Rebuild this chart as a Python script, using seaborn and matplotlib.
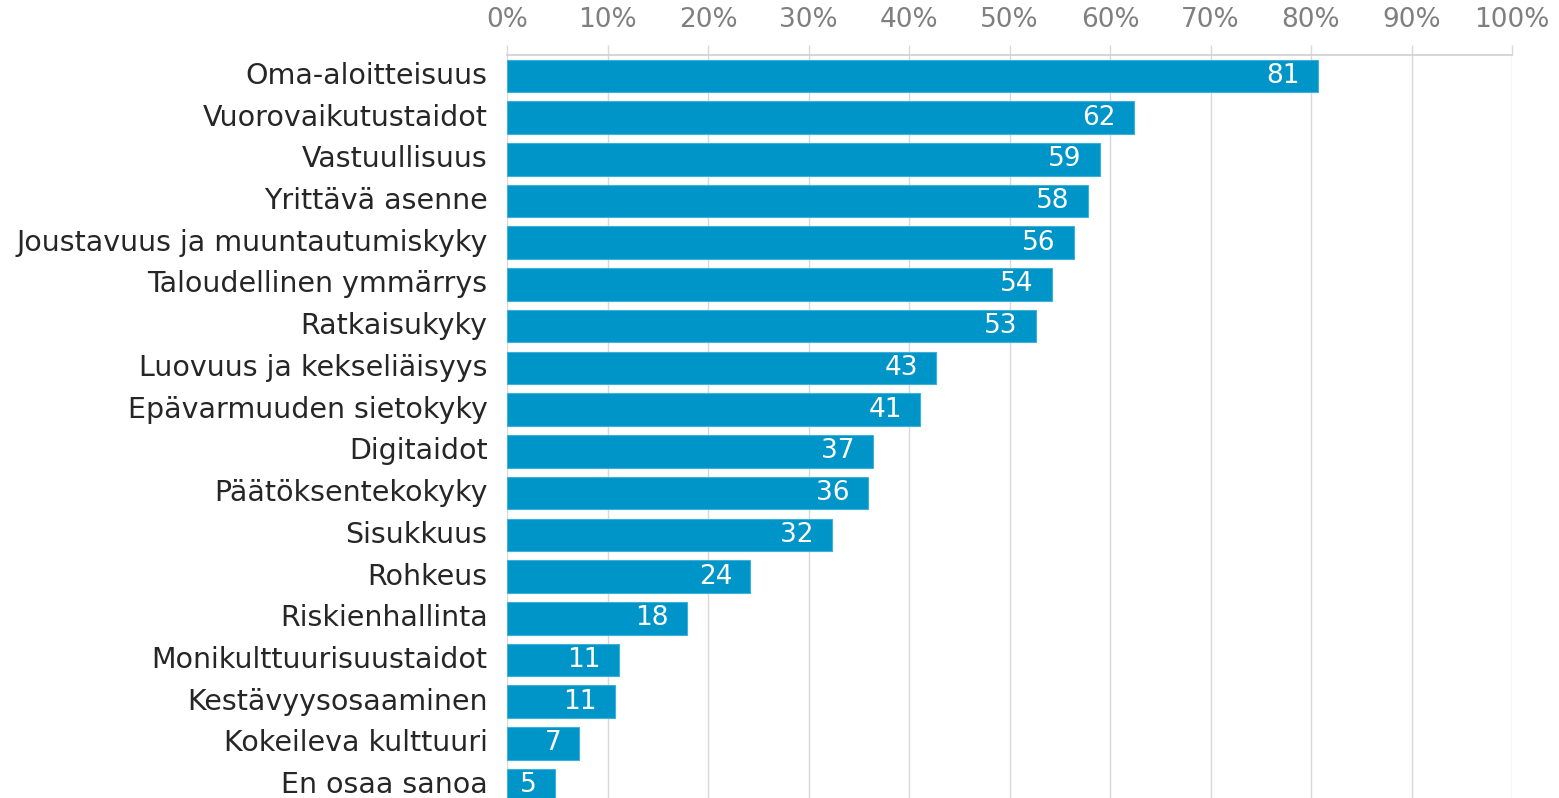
import matplotlib
matplotlib.use("Agg")
import matplotlib.pyplot as plt
import matplotlib.transforms as mtransforms
import seaborn as sns
import pandas as pd
from matplotlib.ticker import FuncFormatter

categories = [
    "Oma-aloitteisuus", "Vuorovaikutustaidot", "Vastuullisuus", "Yrittävä asenne",
    "Joustavuus ja muuntautumiskyky", "Taloudellinen ymmärrys", "Ratkaisukyky",
    "Luovuus ja kekseliäisyys", "Epävarmuuden sietokyky", "Digitaidot",
    "Päätöksentekokyky", "Sisukkuus", "Rohkeus", "Riskienhallinta",
    "Monikulttuurisuustaidot", "Kestävyysosaaminen", "Kokeileva kulttuuri",
    "En osaa sanoa",
]
values = [80.7, 62.4, 59.0, 57.8, 56.4, 54.2, 52.6, 42.7, 41.1, 36.4, 35.9, 32.3,
          24.2, 17.9, 11.1, 10.7, 7.2, 4.8]
labels = ["81", "62", "59", "58", "56", "54", "53", "43", "41", "37", "36", "32",
          "24", "18", "11", "11", "7", "5"]
xticks = [0, 10, 20, 30, 40, 50, 60, 70, 80, 90, 100]

df = pd.DataFrame({"cat": categories, "val": values})

sns.set_theme(style="white")
plt.rcParams["font.family"] = ["DejaVu Sans"]

fig = plt.figure(figsize=(15.59, 7.98), dpi=100)
ax = fig.add_axes([507 / 1559, -8 / 798, (1512 - 507) / 1559, (798 + 8 - 55) / 798])

sns.barplot(data=df, x="val", y="cat", orient="h", color="#0095C8",
            saturation=1, width=0.78, ax=ax, zorder=3,
            edgecolor="#3FB0D8", linewidth=0.8)

for i, (v, lab) in enumerate(zip(values, labels)):
    ax.annotate(lab, xy=(v, i), xytext=(-13, 0), textcoords="offset points",
                ha="right", va="center", color="white", fontsize=19, zorder=4)

ax.set_xlim(0, 100)
ax.set_ylim(len(categories) - 0.5, -0.5)
ax.set_xticks(xticks)
ax.xaxis.set_major_formatter(FuncFormatter(lambda x, p: f"{x:.0f}%"))
ax.xaxis.tick_top()
ax.tick_params(axis="x", which="major", direction="out", length=7, width=1,
               color="#D9D9D9", labelcolor="#7F7F7F", labelsize=19, pad=9, top=True, bottom=False)
ax.tick_params(axis="y", length=0, labelsize=20.5, labelcolor="#262626", pad=14)
ax.grid(axis="x", color="#D9D9D9", linewidth=1, zorder=0)
ax.grid(axis="y", visible=False)
for s in ["right", "bottom", "left"]:
    ax.spines[s].set_visible(False)
ax.spines["top"].set_color("#D0D0D0")
ax.spines["top"].set_linewidth(1.2)
ax.set_xlabel("")
ax.set_ylabel("")
ax.set_axisbelow(True)

shift = mtransforms.ScaledTranslation(0, 0.03, fig.dpi_scale_trans)
for lbl in ax.get_yticklabels():
    lbl.set_transform(lbl.get_transform() + shift)

fig.savefig("out.png", dpi=100)
